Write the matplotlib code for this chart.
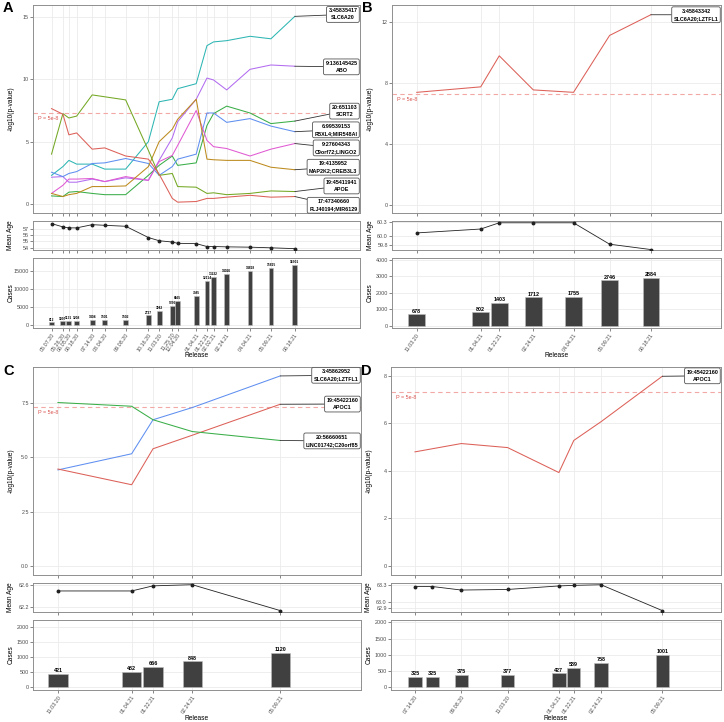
import numpy as np
import pandas as pd
import matplotlib
matplotlib.use('Agg')
import matplotlib.pyplot as plt
import matplotlib.dates as mdates

plt.rcParams['font.family'] = ['Liberation Sans', 'DejaVu Sans']

#%% Data

# panel A
a_release = ['05.07.20', '05.26.20', '06.05.20', '06.18.20', '07.14.20', '08.04.20',
             '09.08.20', '10.16.20', '11.03.20', '11.25.20', '12.04.20', '01.04.21',
             '01.22.21', '02.02.21', '02.24.21', '04.04.21', '05.09.21', '06.18.21']
a_cases = [812, 1097, 1131, 1208, 1404, 1501, 1502, 2727, 3943, 5356, 6665, 7985,
           12114, 13222, 14026, 14818, 15815, 16501]
a_age = [57.77, 57.25, 57.1, 57.1, 57.6, 57.5, 57.35, 55.6, 55.1, 54.9, 54.7, 54.65,
         54.2, 54.2, 54.15, 54.1, 54.0, 53.87]
a_snps = ['3:45835417\nSLC6A20', '9:136145425\nABO', '20:651103\nSCRT2',
          '6:99539153\nFBXL4;MIR548AI', '9:27604343\nC9orf72;LINGO2',
          '19:4135952\nMAP2K2;CREB3L3', '19:45411941\nAPOE', '17:47340660\nFLJ40194;MIR6129']
a_slc6a20 = [2.3, 3.0, 3.5, 3.2, 3.2, 2.8, 2.8, 5.0, 8.2, 8.4, 9.25, 9.65, 12.7, 13.0, 13.1, 13.45, 13.25, 15.05]
a_abo = [2.15, 2.2, 1.75, 1.75, 2.0, 1.8, 2.1, 1.9, 3.5, 5.3, 6.6, 8.4, 10.1, 9.95, 9.15, 10.8, 11.15, 11.05]
a_scrt2 = [0.65, 0.6, 0.95, 1.0, 0.85, 0.75, 0.75, 2.3, 3.1, 3.85, 3.1, 3.3, 6.3, 7.25, 7.85, 7.3, 6.45, 6.65]
a_fbxl4 = [2.55, 2.2, 2.45, 2.6, 3.25, 3.3, 3.65, 3.25, 2.3, 3.0, 3.6, 4.0, 7.3, 7.3, 6.55, 6.85, 6.25, 5.8]
a_c9orf72 = [0.85, 1.5, 2.0, 2.0, 2.05, 1.8, 2.2, 1.9, 3.4, 3.9, 4.7, 7.5, 5.1, 4.6, 4.45, 3.85, 4.4, 4.85]
a_map2k2 = [0.85, 0.6, 0.75, 0.85, 1.4, 1.4, 1.45, 3.0, 5.0, 6.0, 6.8, 8.4, 3.6, 3.55, 3.5, 3.5, 2.95, 2.75]
a_apoe = [4.0, 7.25, 6.9, 7.05, 8.75, 8.6, 8.35, 4.3, 2.3, 2.45, 1.4, 1.35, 0.85, 0.9, 0.75, 0.85, 1.05, 1.0]
a_flj40194 = [7.65, 7.2, 5.55, 5.7, 4.4, 4.5, 3.85, 3.6, 2.4, 0.45, 0.15, 0.2, 0.45, 0.45, 0.55, 0.7, 0.55, 0.6]

# panel B
b_release = ['11.03.20', '01.04.21', '01.22.21', '02.24.21', '04.04.21', '05.09.21', '06.18.21']
b_cases = [678, 802, 1403, 1712, 1755, 2746, 2884]
b_age = [60.063, 60.15, 60.29, 60.29, 60.29, 59.81, 59.69]
b_snps = ['3:45843342\nSLC6A20;LZTFL1']
b_slc6a20 = [7.4, 7.76, 9.8, 7.56, 7.4, 11.14, 12.5]

# panel C
c_release = ['11.03.20', '01.04.21', '01.22.21', '02.24.21', '05.09.21']
c_cases = [421, 482, 666, 848, 1120]
c_age = [62.49, 62.49, 62.58, 62.6, 62.145]
c_snps = ['3:45862952\nSLC6A20;LZTFL1', '19:45422160\nAPOC1', '20:56660651\nLINC01742;C20orf85']
c_slc6a20 = [4.41, 5.15, 6.71, 7.27, 8.72]
c_apoc1 = [4.45, 3.73, 5.38, 6.0, 7.42]
c_linc01742 = [7.5, 7.33, 6.71, 6.17, 5.76]

# panel D
d_release = ['07.14.20', '08.04.20', '09.08.20', '11.03.20', '01.04.21', '01.22.21', '02.24.21', '05.09.21']
d_cases = [325, 325, 375, 377, 427, 589, 758, 1001]
d_age = [63.27, 63.27, 63.21, 63.22, 63.28, 63.29, 63.3, 62.86]
d_snp_release = ['07.14.20', '09.08.20', '11.03.20', '01.04.21', '01.22.21', '02.24.21', '05.09.21']
d_snps = ['19:45422160\nAPOC1']
d_apoc1 = [4.8, 5.15, 4.98, 3.93, 5.28, 6.07, 7.98]

#%% Layout helpers
W, H = 724, 722
fig = plt.figure(figsize=(W / 100, H / 100), dpi=100)


def box(l, t, r, b):
    return [l / W, 1 - b / H, (r - l) / W, (b - t) / H]


def to_num(rel):
    return mdates.date2num(pd.to_datetime(rel, format='%m.%d.%y'))


def style(ax):
    for s in ax.spines.values():
        s.set_color('#8f8f8f')
        s.set_linewidth(0.7)
    ax.grid(True, color='#ebebeb', lw=0.6)
    ax.set_axisbelow(True)
    ax.tick_params(length=2, width=0.5, color='#555555', labelsize=3.9,
                   labelcolor='#4d4d4d', pad=1)


def panel(left, right, top, letter, release, cases, age, age_ticks, snp_release,
          series, snps, colors, label_y, xlim, ylims, yticks, bar_fs):
    t = top
    ax1 = fig.add_axes(box(left, t, right, t + 208))
    ax2 = fig.add_axes(box(left, t + 216, right, t + 245))
    ax3 = fig.add_axes(box(left, t + 253, right, t + 323))
    for ax in (ax1, ax2, ax3):
        style(ax)
        ax.set_xlim(mdates.date2num(pd.to_datetime(xlim)))

    xs = to_num(snp_release)
    xall = to_num(release)
    for ax in (ax1, ax2, ax3):
        ax.set_xticks(xs)
    ax1.set_xticklabels([])
    ax2.set_xticklabels([])
    ax3.set_xticklabels(snp_release, rotation=55, ha='right', va='top',
                        rotation_mode='anchor', fontsize=3.9)

    # p-value lines
    thr = -np.log10(5e-8)
    ax1.axhline(thr, color='#f2a9a6', ls=(0, (4, 3)), lw=0.8, zorder=1)
    ax1.annotate('P = 5e-8', xy=(0.015, thr), xycoords=('axes fraction', 'data'),
                 xytext=(0, -2), textcoords='offset points', ha='left', va='top',
                 color='#d9534f', fontsize=3.9)
    for vals, col, lab, ly in zip(series, colors, snps, label_y):
        ax1.plot(xs, vals, color=col, lw=0.75, zorder=3)
        ax1.annotate(lab, xy=(xs[-1], vals[-1]), xytext=(0.992, ly),
                     textcoords=('axes fraction', 'data'), ha='right', va='center',
                     multialignment='center', fontsize=3.9, fontweight='bold',
                     linespacing=1.5,
                     bbox=dict(boxstyle='round,pad=0.35,rounding_size=0.3',
                               fc='white', ec='#555555', lw=0.6),
                     arrowprops=dict(arrowstyle='-', color='#333333', lw=0.6,
                                     shrinkA=0, shrinkB=0), zorder=5)
    ax1.set_ylim(ylims[0])
    ax1.set_yticks(yticks[0])
    if letter == 'C':
        ax1.set_yticklabels([f'{v:.1f}' for v in yticks[0]])

    # mean age
    ax2.plot(xall, age, color='#222222', lw=0.6, marker='o', ms=1.8, zorder=3)
    ax2.set_ylim(ylims[1])
    ax2.set_yticks(age_ticks)
    ax2.set_yticklabels(age_ticks)

    # cases
    width = 0.9 * np.min(np.diff(xall))
    ax3.bar(xall, cases, width=width, color='#404040', edgecolor='#bdbdbd',
            lw=0.4, zorder=3)
    for x, c in zip(xall, cases):
        ax3.annotate(str(c), xy=(x, c), xytext=(0, 0.6), textcoords='offset points',
                     ha='center', va='bottom', fontsize=bar_fs, fontweight='bold')
    ax3.set_ylim(ylims[2])
    ax3.set_yticks(yticks[2])

    # titles
    cx = left - 22
    fig.text(cx / W, 1 - (t + 104) / H, '-log10(p-value)', rotation=90,
             ha='center', va='center', fontsize=4.8)
    fig.text(cx / W, 1 - (t + 230) / H, 'Mean Age', rotation=90,
             ha='center', va='center', fontsize=4.8)
    fig.text(cx / W, 1 - (t + 288) / H, 'Cases', rotation=90,
             ha='center', va='center', fontsize=4.8)
    fig.text((left + right) / 2 / W, 1 - (t + 351) / H, 'Release',
             ha='center', va='center', fontsize=4.8)
    fig.text((left - 30) / W, 1 - (t + 3.5) / H, letter, ha='left', va='center',
             fontsize=10.5, fontweight='bold')


col_red = '#dc6058'
col_green = '#3aae48'
col_blue = '#5f8ff0'

panel(33, 360, 5, 'A', a_release, a_cases, a_age, [54, 55, 56, 57], a_release,
      [a_slc6a20, a_abo, a_scrt2, a_fbxl4, a_c9orf72, a_map2k2, a_apoe, a_flj40194],
      a_snps,
      ['#2db6b3', '#b26cf0', col_green, col_blue, '#e05ad3', '#bd8b1e', '#74a824', col_red],
      [15.2, 11.0, 7.45, 5.95, 4.5, 2.95, 1.45, -0.1],
      ['2020-04-06', '2021-10-05'],
      [(-0.72, 15.96), (53.66, 58.17), (-730, 18470)],
      [[0, 5, 10, 15], None, [0, 5000, 10000, 15000]], 2.3)

panel(392, 721, 5, 'B', b_release, b_cases, b_age, [59.8, 60.0, 60.3], b_release,
      [b_slc6a20], b_snps, [col_red], [12.5],
      ['2020-10-10', '2021-08-25'],
      [(-0.53, 13.14), (59.68, 60.33), (-140, 4100)],
      [[0, 4, 8, 12], None, [0, 1000, 2000, 3000, 4000]], 3.9)

panel(33, 361, 367, 'C', c_release, c_cases, c_age, [62.2, 62.6], c_release,
      [c_slc6a20, c_apoc1, c_linc01742], c_snps, [col_blue, col_red, col_green],
      [8.75, 7.43, 5.74],
      ['2020-10-13', '2021-07-16'],
      [(-0.41, 9.13), (62.12, 62.63), (-110, 2230)],
      [[0.0, 2.5, 5.0, 7.5], None, [0, 500, 1000, 1500, 2000]], 3.9)

panel(391, 721, 367, 'D', d_release, d_cases, d_age, [62.9, 63.0, 63.3], d_snp_release,
      [d_apoc1], d_snps, [col_red], [8.0],
      ['2020-06-15', '2021-07-19'],
      [(-0.38, 8.37), (62.836, 63.33), (-83, 2070)],
      [[0, 2, 4, 6, 8], None, [0, 500, 1000, 1500, 2000]], 3.9)

fig.savefig('out.png', dpi=100)
